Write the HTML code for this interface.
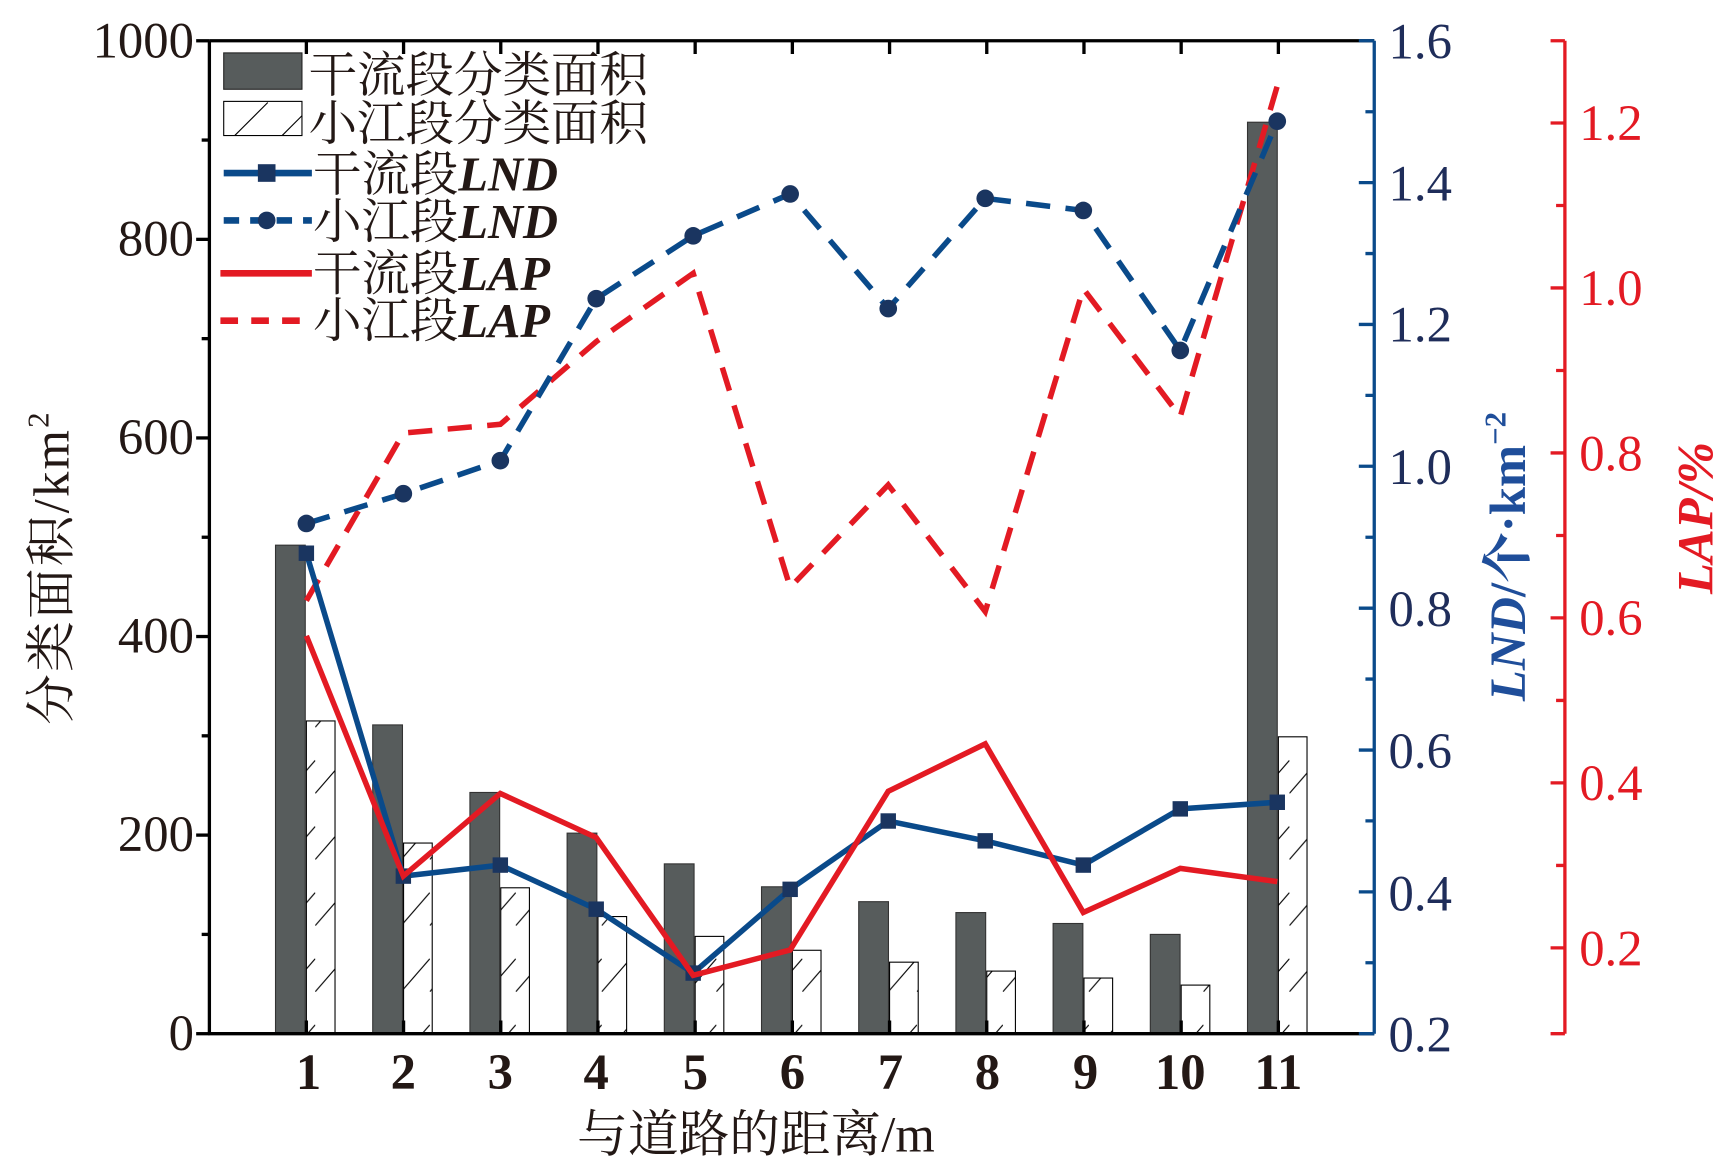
<!DOCTYPE html>
<html><head><meta charset="utf-8"><style>html,body{margin:0;padding:0;background:#fff}svg{display:block}</style></head>
<body>
<svg width="1728" height="1172" viewBox="0 0 1568 1063.5" preserveAspectRatio="none" xmlns="http://www.w3.org/2000/svg" font-family="'Liberation Serif','Noto Serif CJK SC',serif">
<defs>
<pattern id="h" patternUnits="userSpaceOnUse" width="26" height="60">
<line x1="0" y1="60" x2="26" y2="30" stroke="#000" stroke-width="1"/>
</pattern>
</defs>
<g fill="#575c5c" stroke="#333" stroke-width="1">
<rect x="250" y="494.7" width="27" height="443.3"/>
<rect x="338.2" y="657.8" width="27" height="280.2"/>
<rect x="426.4" y="719.1" width="27" height="218.9"/>
<rect x="514.6" y="756" width="27" height="182"/>
<rect x="602.8" y="783.9" width="27" height="154.1"/>
<rect x="691" y="804.7" width="27" height="133.3"/>
<rect x="779.2" y="818.2" width="27" height="119.8"/>
<rect x="867.4" y="828.1" width="27" height="109.9"/>
<rect x="955.6" y="838" width="27" height="100"/>
<rect x="1043.8" y="847.9" width="27" height="90.1"/>
<rect x="1132" y="110.9" width="27" height="827.1"/>
</g>
<g fill="url(#h)" stroke="#000" stroke-width="1">
<rect x="278" y="654.2" width="26" height="283.8"/>
<rect x="366.2" y="765" width="26" height="173"/>
<rect x="454.4" y="805.6" width="26" height="132.4"/>
<rect x="542.6" y="831.7" width="26" height="106.3"/>
<rect x="630.8" y="849.7" width="26" height="88.3"/>
<rect x="719" y="862.3" width="26" height="75.7"/>
<rect x="807.2" y="873.1" width="26" height="64.9"/>
<rect x="895.4" y="881.2" width="26" height="56.8"/>
<rect x="983.6" y="887.5" width="26" height="50.5"/>
<rect x="1071.8" y="893.9" width="26" height="44.1"/>
<rect x="1160" y="668.6" width="26" height="269.4"/>
</g>
<g stroke="#000" stroke-width="3" fill="none">
<line x1="190" y1="37" x2="1247" y2="37"/>
<line x1="190" y1="37" x2="190" y2="939"/>
<line x1="189" y1="938" x2="1247" y2="938"/>
<line x1="178" y1="938" x2="190" y2="938"/><line x1="183" y1="847.9" x2="190" y2="847.9"/>
<line x1="178" y1="757.8" x2="190" y2="757.8"/><line x1="183" y1="667.7" x2="190" y2="667.7"/>
<line x1="178" y1="577.6" x2="190" y2="577.6"/><line x1="183" y1="487.5" x2="190" y2="487.5"/>
<line x1="178" y1="397.4" x2="190" y2="397.4"/><line x1="183" y1="307.3" x2="190" y2="307.3"/>
<line x1="178" y1="217.2" x2="190" y2="217.2"/><line x1="183" y1="127.1" x2="190" y2="127.1"/>
<line x1="178" y1="37" x2="190" y2="37"/>
<path d="M278 938v-12M366.2 938v-12M454.4 938v-12M542.6 938v-12M630.8 938v-12M719 938v-12M807.2 938v-12M895.4 938v-12M983.6 938v-12M1071.8 938v-12M1160 938v-12"/>
<path d="M278 37v12M366.2 37v12M454.4 37v12M542.6 37v12M630.8 37v12M719 37v12M807.2 37v12M895.4 37v12M983.6 37v12M1071.8 37v12M1160 37v12"/>
</g>
<g stroke="#0a4a8a" stroke-width="3" fill="none">
<line x1="1247" y1="37" x2="1247" y2="938"/>
<path d="M1247 938h-14M1247 873.6h-8M1247 809.3h-14M1247 744.9h-8M1247 680.6h-14M1247 616.2h-8M1247 551.9h-14M1247 487.5h-8M1247 423.1h-14M1247 358.8h-8M1247 294.4h-14M1247 230.1h-8M1247 165.7h-14M1247 101.4h-8M1247 37h-14"/>
</g>
<g stroke="#e31a23" stroke-width="3" fill="none">
<line x1="1420" y1="37" x2="1420" y2="938"/>
<path d="M1420 37h-13M1420 938h-13M1420 860.1h-13M1420 785.3h-8M1420 710.4h-13M1420 635.6h-8M1420 560.7h-13M1420 485.9h-8M1420 411h-13M1420 336.2h-8M1420 261.3h-13M1420 186.5h-8M1420 111.6h-13"/>
</g>
<polyline fill="none" stroke="#e31a23" stroke-width="5" stroke-dasharray="22,14" points="278,545 366,393 454,385 541,310 629,248 717,533 806,440 894,555 983,262 1071,378 1159,78"/>
<polyline fill="none" stroke="#0a4a8a" stroke-width="5" stroke-dasharray="22,14" points="278,475 366,448 454,418 541,271 629,214 717,176 806,280 894,180 983,191 1071,318 1159,110"/>
<g fill="#1a3560">
<circle cx="278" cy="475" r="8"/><circle cx="366" cy="448" r="8"/><circle cx="454" cy="418" r="8"/><circle cx="541" cy="271" r="8"/><circle cx="629" cy="214" r="8"/><circle cx="717" cy="176" r="8"/><circle cx="806" cy="280" r="8"/><circle cx="894" cy="180" r="8"/><circle cx="983" cy="191" r="8"/><circle cx="1071" cy="318" r="8"/><circle cx="1159" cy="110" r="8"/>
</g>
<polyline fill="none" stroke="#0a4a8a" stroke-width="5" points="278,502 366,795 454,785 541,825 629,883 717,807 806,745 894,763 983,785 1071,734 1159,728"/>
<g fill="#1a3560">
<rect x="271" y="495" width="14" height="14"/><rect x="359" y="788" width="14" height="14"/><rect x="447" y="778" width="14" height="14"/><rect x="534" y="818" width="14" height="14"/><rect x="622" y="876" width="14" height="14"/><rect x="710" y="800" width="14" height="14"/><rect x="799" y="738" width="14" height="14"/><rect x="887" y="756" width="14" height="14"/><rect x="976" y="778" width="14" height="14"/><rect x="1064" y="727" width="14" height="14"/><rect x="1152" y="721" width="14" height="14"/>
</g>
<polyline fill="none" stroke="#e31a23" stroke-width="5" points="278,577 366,795 454,720 541,760 629,885 717,862 806,718 894,675 983,828 1071,788 1159,800"/>
<rect x="203" y="48" width="71" height="33" fill="#575c5c" stroke="#222" stroke-width="1"/>
<rect x="203" y="92" width="71" height="31" fill="#fff" stroke="#000" stroke-width="1"/>
<line x1="213" y1="123" x2="243" y2="93" stroke="#000" stroke-width="1"/><line x1="256" y1="123" x2="274" y2="105" stroke="#000" stroke-width="1"/>
<line x1="203" y1="157" x2="283" y2="157" stroke="#0a4a8a" stroke-width="6"/><rect x="234" y="149" width="16" height="16" fill="#1a3560"/>
<line x1="203" y1="200" x2="283" y2="200" stroke="#0a4a8a" stroke-width="6" stroke-dasharray="14,10"/><circle cx="242" cy="200" r="8" fill="#1a3560"/>
<line x1="200" y1="248" x2="283" y2="248" stroke="#e31a23" stroke-width="6"/>
<line x1="200" y1="291" x2="283" y2="291" stroke="#e31a23" stroke-width="6" stroke-dasharray="16,12"/>
<g font-size="44" fill="#231815">
<text x="280" y="83">干流段分类面积</text>
<text x="280" y="127">小江段分类面积</text>
<text x="284" y="173">干流段<tspan font-style="italic" font-weight="bold">LND</tspan></text>
<text x="284" y="216">小江段<tspan font-style="italic" font-weight="bold">LND</tspan></text>
<text x="284" y="263">干流段<tspan font-style="italic" font-weight="bold">LAP</tspan></text>
<text x="284" y="306">小江段<tspan font-style="italic" font-weight="bold">LAP</tspan></text>
</g>
<g font-size="46" fill="#231815" text-anchor="end">
<text x="176" y="52">1000</text><text x="176" y="232">800</text><text x="176" y="412">600</text><text x="176" y="592">400</text><text x="176" y="772">200</text><text x="176" y="953">0</text>
</g>
<g font-size="46" fill="#231815" text-anchor="middle" font-weight="bold">
<text x="280" y="988">1</text><text x="366" y="988">2</text><text x="454" y="988">3</text><text x="541" y="988">4</text><text x="631" y="988">5</text><text x="719" y="988">6</text><text x="808" y="988">7</text><text x="896" y="988">8</text><text x="985" y="988">9</text><text x="1071" y="988">10</text><text x="1160" y="988">11</text>
</g>
<g font-size="46" fill="#1f2d5a">
<text x="1260" y="53">1.6</text><text x="1260" y="182">1.4</text><text x="1260" y="310">1.2</text><text x="1260" y="439">1.0</text><text x="1260" y="568">0.8</text><text x="1260" y="697">0.6</text><text x="1260" y="826">0.4</text><text x="1260" y="954">0.2</text>
</g>
<g font-size="46" fill="#e31a23">
<text x="1433" y="127">1.2</text><text x="1433" y="277">1.0</text><text x="1433" y="427">0.8</text><text x="1433" y="576">0.6</text><text x="1433" y="726">0.4</text><text x="1433" y="876">0.2</text>
</g>
<text transform="translate(62,515) rotate(-90)" text-anchor="middle" font-size="46" fill="#231815" letter-spacing="2">分类面积/km<tspan font-size="28" dy="-18">2</tspan></text>
<text transform="translate(1384,505) rotate(-90)" text-anchor="middle" font-size="46" fill="#1f4e9a" font-weight="bold"><tspan font-style="italic">LND</tspan>/个·km<tspan font-size="28" dy="-18">−2</tspan></text>
<text transform="translate(1554,470) rotate(-90)" text-anchor="middle" font-size="46" fill="#e31a23" font-weight="bold" font-style="italic">LAP/%</text>
<text x="686" y="1045" text-anchor="middle" font-size="46" fill="#231815">与道路的距离/m</text>
</svg>
</body></html>
